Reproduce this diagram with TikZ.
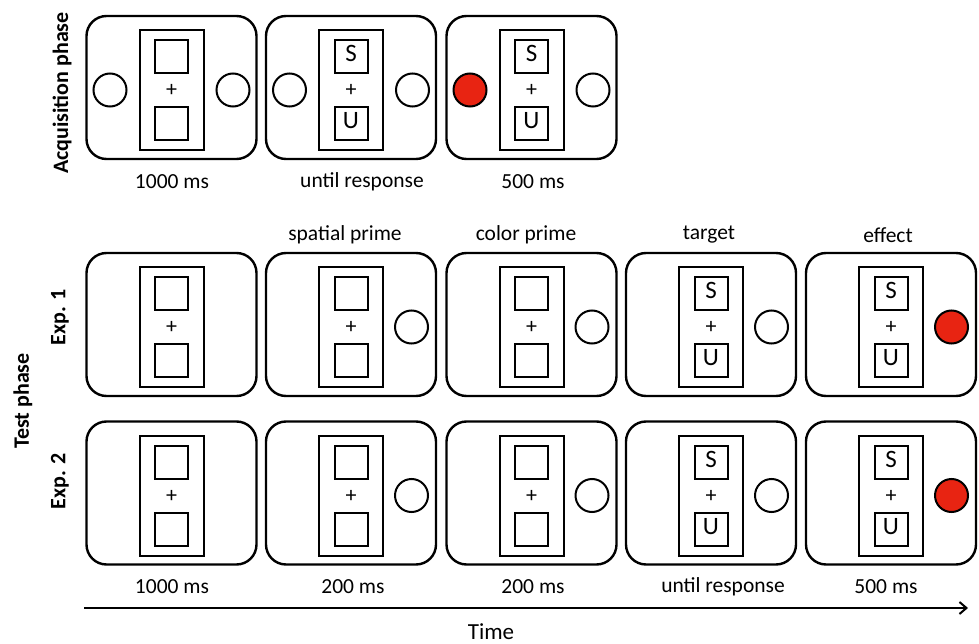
\documentclass[tikz,border=0pt]{standalone}
\usepackage{fontspec}
\usetikzlibrary{arrows.meta}
\setmainfont{Carlito}
\definecolor{stimred}{RGB}{232,36,18}
\tikzset{
  x=1pt, y=1pt,
  panel/.style={draw, line width=2.4pt, rounded corners=20pt, minimum width=170pt, minimum height=143pt, inner sep=0pt},
  frame/.style={draw, line width=2pt, minimum width=64pt, minimum height=120pt, inner sep=0pt},
  sq/.style={draw, line width=2pt, minimum size=33pt, inner sep=0pt, font=\fontsize{25}{25}\selectfont},
  cross/.style={inner sep=0pt, font=\fontsize{22}{22}\selectfont},
  dot/.style={circle, draw, line width=2pt, minimum size=33pt, inner sep=0pt},
  reddot/.style={dot, fill=stimred},
  lab/.style={font=\fontsize{21.5}{23}\selectfont},
  side/.style={font=\fontsize{22}{24}\selectfont\bfseries, rotate=90},
  screen/.pic={
    \node[panel] (-box) at (0,0) {};
    \node[frame] (-frame) at (0,-2.5) {};
    \node[sq] (-top) at (0,31) {\strut\pgfkeysvalueof{/tikz/toptext}};
    \node[sq] (-bot) at (0,-36) {\strut\pgfkeysvalueof{/tikz/bottext}};
    \node[cross] (-plus) at (0,-3) {+};
  },
  toptext/.initial={}, bottext/.initial={},
}
\begin{document}
\begin{tikzpicture}
\useasboundingbox (0,0) rectangle (979,-644);

% Acquisition phase
\node[side] (acq) at (62,-93) {Acquisition phase};
\pic (a1) at (171.5,-87.5) {screen};
\pic[toptext=S, bottext=U] (a2) at (351,-87.5) {screen};
\pic[toptext=S, bottext=U] (a3) at (531.5,-87.5) {screen};
\node[dot] (a1l) at (110,-90) {};
\node[dot] (a1r) at (233,-90) {};
\node[dot] (a2l) at (289.5,-90) {};
\node[dot] (a2r) at (412.5,-90) {};
\node[reddot] (a3l) at (470,-90) {};
\node[dot] (a3r) at (593,-90) {};
\node[lab] (t1) at (172,-182) {1000 ms};
\node[lab] (t2) at (362,-182) {until response};
\node[lab] (t3) at (533,-182) {500 ms};

% Test phase
\node[side] (test) at (23,-401) {Test phase};
\node[side] (exp1) at (60,-317) {Exp. 1};
\node[side] (exp2) at (60,-481) {Exp. 2};

\node[lab] (h2) at (345,-235) {spatial prime};
\node[lab] (h3) at (526,-235) {color prime};
\node[lab] (h4) at (709,-235) {target};
\node[lab] (h5) at (888,-235) {effect};

\foreach \r/\y in {e/-324.5, f/-493}{
  \pic (\r1) at (171.5,\y) {screen};
  \pic (\r2) at (351,\y) {screen};
  \pic (\r3) at (531.5,\y) {screen};
  \pic[toptext=S, bottext=U] (\r4) at (711,\y) {screen};
  \pic[toptext=S, bottext=U] (\r5) at (891,\y) {screen};
  \node[dot] (\r2c) at (411.5,\y-2.5) {};
  \node[dot] (\r3c) at (592,\y-2.5) {};
  \node[dot] (\r4c) at (771.5,\y-2.5) {};
  \node[reddot] (\r5c) at (951.5,\y-2.5) {};
}

\node[lab] (b1) at (172,-587) {1000 ms};
\node[lab] (b2) at (353,-587) {200 ms};
\node[lab] (b3) at (533,-587) {200 ms};
\node[lab] (b4) at (723,-587) {until response};
\node[lab] (b5) at (886,-587) {500 ms};

\coordinate (ts) at (84,-608);
\coordinate (te) at (968,-608);
\draw[line width=2pt, -{Straight Barb[length=7pt,width=12pt,line width=2pt]}] (ts) -- (te);
\node[font=\fontsize{23}{25}\selectfont] (time) at (491,-632) {Time};
\end{tikzpicture}
\end{document}
